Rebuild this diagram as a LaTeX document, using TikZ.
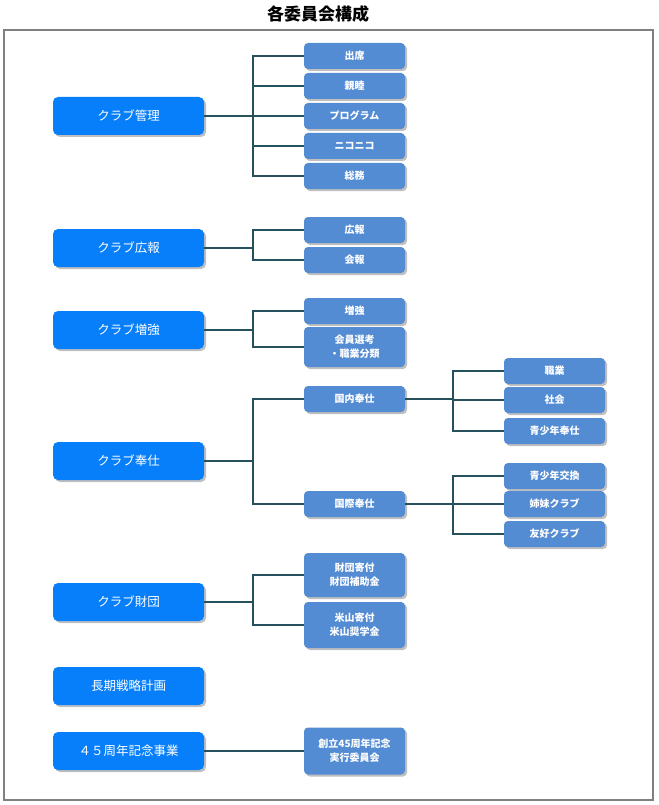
\documentclass[tikz,border=0pt]{standalone}
\usepackage{fontspec}
\newfontfamily\cjk{Noto Sans CJK JP}
\usetikzlibrary{shadows}
\definecolor{mainblue}{RGB}{8,127,250}
\definecolor{subblue}{RGB}{84,140,212}
\definecolor{linec}{RGB}{38,80,92}
\definecolor{framec}{RGB}{128,128,128}
\tikzset{
  mainbox/.style={rounded corners=5pt, fill=mainblue, text=white, minimum width=151pt, minimum height=38pt,
    font=\cjk\fontsize{12.5}{14}\selectfont, align=center, inner sep=0pt,
    drop shadow={shadow xshift=2pt, shadow yshift=-2pt, fill=black, opacity=0.25}},
  subbox/.style={rounded corners=4pt, fill=subblue, text=white, minimum width=101pt, minimum height=26pt,
    font=\cjk\bfseries\fontsize{10}{14}\selectfont, align=center, inner sep=0pt,
    drop shadow={shadow xshift=2pt, shadow yshift=-2pt, fill=black, opacity=0.25}},
  conn/.style={draw=linec, line width=2pt}
}
\begin{document}
\begin{tikzpicture}[x=1pt,y=-1pt]
\useasboundingbox (0,0) rectangle (658,805);
\draw[framec, line width=2.2pt] (4,30) rectangle (653,800);
\node[font=\cjk\bfseries\fontsize{17}{19}\selectfont] (title) at (318,14) {各委員会構成};

% main boxes
\node[mainbox] (m1) at (128.5,116) {クラブ管理};
\node[mainbox] (m2) at (128.5,248) {クラブ広報};
\node[mainbox] (m3) at (128.5,330) {クラブ増強};
\node[mainbox] (m4) at (128.5,461) {クラブ奉仕};
\node[mainbox] (m5) at (128.5,602) {クラブ財団};
\node[mainbox] (m6) at (128.5,686) {長期戦略計画};
\node[mainbox] (m7) at (128.5,751) {４５周年記念事業};

% sub boxes
\node[subbox] (a1) at (354.5,56) {出席};
\node[subbox] (a2) at (354.5,86) {親睦};
\node[subbox] (a3) at (354.5,116) {プログラム};
\node[subbox] (a4) at (354.5,146) {ニコニコ};
\node[subbox] (a5) at (354.5,176) {総務};
\node[subbox] (b1) at (354.5,230) {広報};
\node[subbox] (b2) at (354.5,260) {会報};
\node[subbox] (c1) at (354.5,311) {増強};
\node[subbox, minimum height=40pt] (c2) at (354.5,347) {会員選考\\・職業分類};
\node[subbox] (d1) at (354.5,399) {国内奉仕};
\node[subbox] (d2) at (354.5,504) {国際奉仕};
\node[subbox, minimum height=44pt] (e1) at (354.5,575) {財団寄付\\財団補助金};
\node[subbox, minimum height=46pt] (e2) at (354.5,625) {米山寄付\\米山奨学金};
\node[subbox, minimum height=47pt] (f1) at (354.5,751) {創立45周年記念\\実行委員会};

\node[subbox] (g1) at (554.5,371) {職業};
\node[subbox] (g2) at (554.5,400) {社会};
\node[subbox] (g3) at (554.5,431) {青少年奉仕};
\node[subbox] (h1) at (554.5,476) {青少年交換};
\node[subbox] (h2) at (554.5,504) {姉妹クラブ};
\node[subbox] (h3) at (554.5,534) {友好クラブ};

% connectors
\foreach \c in {a1,a2,a3,a4,a5} \draw[conn] (m1.east) -- (253,116) |- (\c.west);
\foreach \c in {b1,b2} \draw[conn] (m2.east) -- (253,248) |- (\c.west);
\foreach \c in {c1,c2} \draw[conn] (m3.east) -- (253,330) |- (\c.west);
\foreach \c in {d1,d2} \draw[conn] (m4.east) -- (253,461) |- (\c.west);
\foreach \c in {e1,e2} \draw[conn] (m5.east) -- (253,602) |- (\c.west);
\draw[conn] (m7.east) -- (f1.west);
\foreach \c in {g1,g2,g3} \draw[conn] (d1.east) -- (453,399) |- (\c.west);
\foreach \c in {h1,h2,h3} \draw[conn] (d2.east) -- (453,504) |- (\c.west);
\end{tikzpicture}
\end{document}
